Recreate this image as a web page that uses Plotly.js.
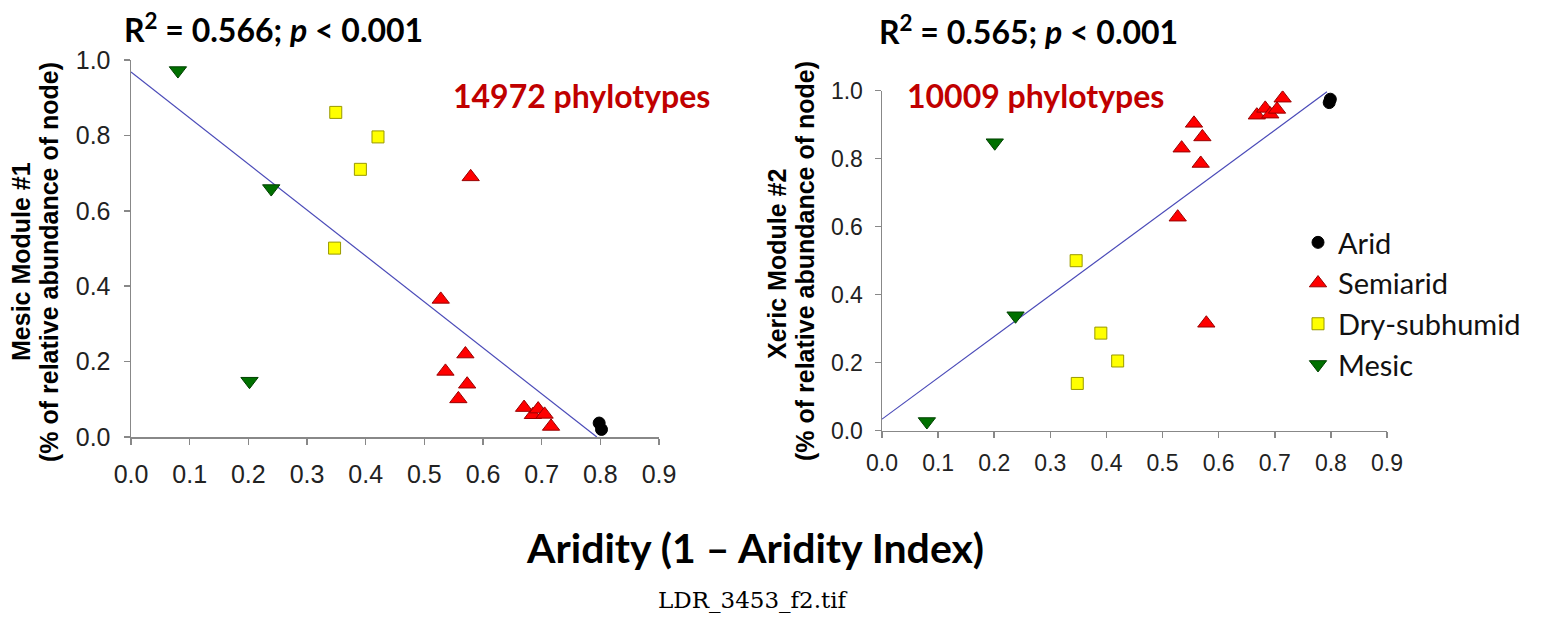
<!DOCTYPE html>
<html>
<head>
<meta charset="utf-8">
<script src="https://cdn.plot.ly/plotly-3.0.1.min.js"></script>
<style>html,body{margin:0;padding:0;background:#fff;}#chart{width:1542px;height:618px;}</style>
</head>
<body>
<div id="chart"></div>
<script>
// ---- Left panel: Mesic Module #1 ----
const L_aridX = [0.798, 0.802];
const L_aridY = [0.037, 0.020];
const L_semiX = [0.579, 0.528, 0.570, 0.536, 0.573, 0.558, 0.670, 0.685, 0.694, 0.705, 0.716];
const L_semiY = [0.690, 0.365, 0.220, 0.174, 0.140, 0.101, 0.078, 0.059, 0.074, 0.060, 0.028];
const L_dryX = [0.349, 0.421, 0.391, 0.347];
const L_dryY = [0.861, 0.796, 0.710, 0.501];
const L_mesicX = [0.080, 0.239, 0.202];
const L_mesicY = [0.972, 0.659, 0.148];
const L_fitX = [0.0, 0.794];
const L_fitY = [0.968, 0.0];

// ---- Right panel: Xeric Module #2 ----
const R_aridX = [0.799, 0.797];
const R_aridY = [0.975, 0.965];
const R_semiX = [0.556, 0.534, 0.571, 0.568, 0.527, 0.578, 0.668, 0.683, 0.692, 0.704, 0.714];
const R_semiY = [0.904, 0.831, 0.864, 0.786, 0.628, 0.316, 0.928, 0.948, 0.931, 0.945, 0.978];
const R_dryX = [0.346, 0.390, 0.420, 0.348];
const R_dryY = [0.500, 0.287, 0.205, 0.139];
const R_mesicX = [0.201, 0.238, 0.080];
const R_mesicY = [0.847, 0.338, 0.027];
const R_fitX = [0.0, 0.793];
const R_fitY = [0.034, 0.997];

const xTicks = [0, 0.1, 0.2, 0.3, 0.4, 0.5, 0.6, 0.7, 0.8, 0.9];
const xTickText = ['0.0','0.1','0.2','0.3','0.4','0.5','0.6','0.7','0.8','0.9'];
const yTicks = [0, 0.2, 0.4, 0.6, 0.8, 1.0];
const yTickText = ['0.0','0.2','0.4','0.6','0.8','1.0'];

const styles = {
  'Arid': {symbol: 'circle', color: '#000000', line: '#000000', size: 12},
  'Semiarid': {symbol: 'triangle-up', color: '#ff0000', line: '#990000', size: 15},
  'Dry-subhumid': {symbol: 'square', color: '#ffff00', line: '#999900', size: 12},
  'Mesic': {symbol: 'triangle-down', color: '#007000', line: '#004000', size: 15}
};

function pts(name, x, y, xa, ya, show) {
  const s = styles[name];
  return {
    type: 'scatter', mode: 'markers', name: name, x: x, y: y,
    xaxis: xa, yaxis: ya, showlegend: show, legendgroup: name,
    marker: {symbol: s.symbol, color: s.color, size: s.size, line: {color: s.line, width: 1}},
    hoverinfo: 'x+y'
  };
}
function fit(x, y, xa, ya) {
  return {type: 'scatter', mode: 'lines', x: x, y: y, xaxis: xa, yaxis: ya,
    showlegend: false, line: {color: '#4a4ab8', width: 1.2}, hoverinfo: 'skip'};
}

const data = [
  fit(L_fitX, L_fitY, 'x', 'y'),
  fit(R_fitX, R_fitY, 'x2', 'y2'),
  pts('Arid', L_aridX, L_aridY, 'x', 'y', true),
  pts('Semiarid', L_semiX, L_semiY, 'x', 'y', true),
  pts('Dry-subhumid', L_dryX, L_dryY, 'x', 'y', true),
  pts('Mesic', L_mesicX, L_mesicY, 'x', 'y', true),
  pts('Arid', R_aridX, R_aridY, 'x2', 'y2', false),
  pts('Semiarid', R_semiX, R_semiY, 'x2', 'y2', false),
  pts('Dry-subhumid', R_dryX, R_dryY, 'x2', 'y2', false),
  pts('Mesic', R_mesicX, R_mesicY, 'x2', 'y2', false)
];

const W = 1542, H = 618;
const px = v => v / W;
const py = v => 1 - v / H;

function axis(domain, fontSize, anchor, standoff) {
  return {
    domain: domain, anchor: anchor, showgrid: false, zeroline: false,
    showline: true, linecolor: '#888888', linewidth: 1.5,
    ticks: 'outside', ticklen: 6, tickwidth: 1.5, tickcolor: '#888888',
    ticklabelstandoff: standoff,
    tickfont: {family: 'Liberation Sans, Arial, sans-serif', size: fontSize, color: '#222222'},
    fixedrange: true
  };
}

const bold = (size, color, fam) => ({family: fam || 'Lato, sans-serif', size: size, color: color || '#000000', weight: 'bold'});
const arialB = size => ({family: 'Liberation Sans, Arial, sans-serif', size: size, color: '#000000', weight: 'bold'});

function note(text, x, y, font, angle) {
  const a = {text: text, x: px(x), y: py(y), xref: 'paper', yref: 'paper',
    showarrow: false, xanchor: 'center', yanchor: 'middle', font: font};
  if (angle) a.textangle = angle;
  return a;
}

const layout = {
  width: W, height: H,
  margin: {l: 0, r: 0, t: 0, b: 0},
  paper_bgcolor: '#ffffff', plot_bgcolor: 'rgba(0,0,0,0)',
  showlegend: true,
  legend: {
    x: px(1298), y: py(217), xanchor: 'left', yanchor: 'top',
    font: {family: 'Lato, Carlito, sans-serif', size: 29, color: '#111111'},
    bgcolor: 'rgba(255,255,255,0)', itemsizing: 'trace', tracegroupgap: 0
  },
  xaxis: Object.assign(axis([px(131), px(659)], 25, 'y', 8), {range: [0, 0.9], tickvals: xTicks, ticktext: xTickText}),
  yaxis: Object.assign(axis([1 - 437/H, 1 - 60/H], 25, 'x', 8), {range: [0, 1.0], tickvals: yTicks, ticktext: yTickText}),
  xaxis2: Object.assign(axis([px(882), px(1387)], 23, 'y2', 5), {range: [0, 0.9], tickvals: xTicks, ticktext: xTickText}),
  yaxis2: Object.assign(axis([1 - 430.7/H, 1 - 90.7/H], 23, 'x2', 7), {range: [0, 1.0], tickvals: yTicks, ticktext: yTickText}),
  annotations: [
    note('R<sup>2</sup> = 0.566; <i>p</i> &lt; 0.001', 273, 28, bold(32)),
    note('R<sup>2</sup> = 0.565; <i>p</i> &lt; 0.001', 1028, 30, bold(32)),
    note('14972 phylotypes', 581, 96, bold(32, '#c00000')),
    note('10009 phylotypes', 1035, 95, bold(32, '#c00000')),
    note('Mesic Module #1', 21, 262, arialB(25), -90),
    note('(% of relative abundance of node)', 49, 262, arialB(25), -90),
    note('Xeric Module #2', 777, 264, arialB(25), -90),
    note('(% of relative abundance of node)', 805, 261, arialB(25), -90),
    note('Aridity (1 – Aridity Index)', 755, 547, bold(41)),
    note('LDR_3453_f2.tif', 753, 600, {family: 'DejaVu Serif, Liberation Serif, serif', size: 23, color: '#000000'})
  ]
};

Plotly.newPlot('chart', data, layout, {staticPlot: true, displayModeBar: false});
</script>
</body>
</html>
